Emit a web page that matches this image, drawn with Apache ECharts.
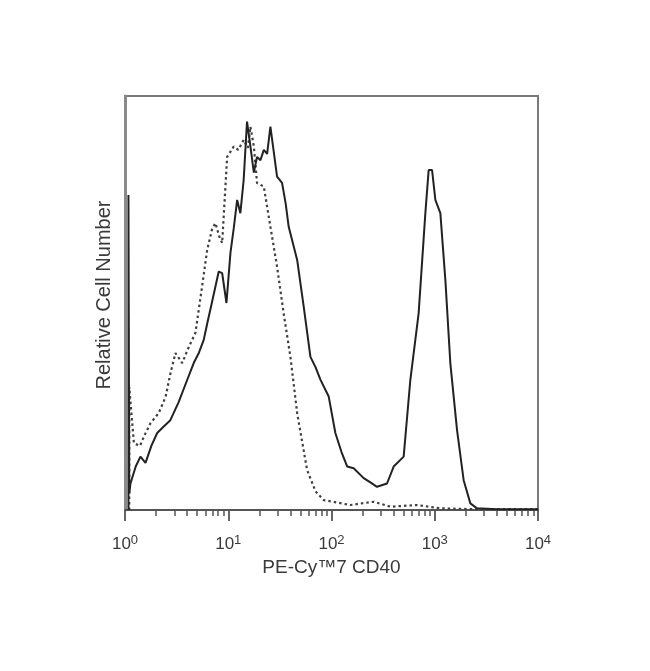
<!DOCTYPE html>
<html>
<head>
<meta charset="utf-8">
<script src="https://cdn.jsdelivr.net/npm/echarts@6/dist/echarts.min.js"></script>
<style>html,body{margin:0;padding:0;background:#fff}#c{width:650px;height:671px}</style>
</head>
<body>
<div id="c"></div>
<script>
// Solid histogram (PE-Cy7 CD40 stained) — x in fluorescence units, y in % of max scale
const solidX = [1.08, 1.08, 1.10, 1.13, 1.27, 1.41, 1.58, 1.80, 2.05, 2.40, 2.75, 3.3, 4.0, 4.63, 5.2, 5.79, 6.25, 7.0, 8.09, 8.73, 9.61, 10.5, 11.3, 12.2, 13.1, 14.1, 15.2, 16.4, 17.7, 19.0, 20.5, 22.1, 23.8, 25.6, 29.7, 33.2, 36.0, 38.5, 46.5, 53.8, 62.5, 70.0, 78.1, 94.0, 109, 125, 142, 164, 205, 240, 276, 345, 400, 500, 580, 698, 811, 873, 942, 1014, 1133, 1267, 1416, 1644, 1905, 2212, 2570, 4000, 10000];
const solidY = [0, 76.1, 4.0, 6.4, 10.5, 12.9, 11.4, 15.5, 18.6, 20.3, 21.7, 26.0, 31.4, 35.5, 38.0, 41.1, 45.0, 50.5, 57.6, 57.2, 50.0, 62.1, 68.0, 74.9, 71.7, 79.7, 93.8, 87.8, 81.5, 85.3, 84.5, 87.0, 86.0, 92.6, 80.5, 79.0, 74.0, 68.4, 60.4, 49.1, 37.0, 34.5, 31.5, 27.4, 18.6, 14.0, 10.5, 10.1, 7.7, 6.6, 5.6, 6.4, 10.5, 12.9, 31.4, 47.5, 71.7, 82.1, 82.1, 74.9, 71.7, 55.6, 35.4, 19.3, 7.2, 1.6, 0.4, 0.2, 0.2];
// Dashed histogram (isotype control)
const dashX = [1.10, 1.10, 1.22, 1.40, 1.52, 1.77, 2.12, 2.47, 2.76, 3.08, 3.58, 4.15, 4.81, 5.5, 6.25, 7.0, 7.52, 8.2, 8.73, 9.76, 11.3, 12.5, 14.1, 15.5, 16.4, 17.7, 19.0, 22.1, 25.6, 29.7, 34.4, 40.0, 46.5, 58.0, 70.0, 84.0, 152, 256, 372, 674, 1133, 2380, 10000];
const dashY = [0, 29.7, 16.1, 15.5, 17.7, 21.0, 23.4, 27.3, 33.1, 37.9, 35.5, 39.4, 42.8, 52.9, 62.8, 68.0, 69.3, 66.0, 64.5, 85.3, 87.8, 87.0, 89.4, 87.5, 92.6, 87.8, 79.0, 78.1, 68.4, 58.8, 47.5, 37.0, 23.4, 9.7, 4.5, 2.4, 1.2, 2.0, 0.8, 1.2, 0.4, 0.2, 0.2];
// Axis ticks
const majorTicks = [1, 10, 100, 1000, 10000];
const minorTicks = [];
[1, 10, 100, 1000].forEach(d => { for (let k = 2; k <= 9; k++) minorTicks.push(k * d); });

const zip = (xs, ys) => xs.map((x, i) => [x, ys[i]]);
const chart = echarts.init(document.getElementById('c'), null, {renderer: 'canvas'});
const textColor = '#3a3a3a';
chart.setOption({
  animation: false,
  grid: {left: 125, right: 112, top: 96, bottom: 161, show: true, borderColor: '#7a7a7a', borderWidth: 2, backgroundColor: 'transparent'},
  xAxis: [{
    type: 'log', logBase: 10, min: 1, max: 10000,
    name: 'PE-Cy\u21227 CD40', nameLocation: 'middle', nameGap: 46,
    nameTextStyle: {fontFamily: 'Liberation Sans', fontSize: 19, color: textColor},
    axisLine: {show: true, lineStyle: {color: '#555', width: 2}},
    axisTick: {show: true, inside: false, length: 11, lineStyle: {color: '#555', width: 1.8}, customValues: majorTicks},
    minorTick: {show: false},
    splitLine: {show: false},
    axisLabel: {
      margin: 24, customValues: majorTicks,
      formatter: v => '{b|10}{s|' + Math.round(Math.log10(v)) + '}',
      rich: {
        b: {fontFamily: 'Liberation Sans', fontSize: 17, color: textColor},
        s: {fontFamily: 'Liberation Sans', fontSize: 13, color: textColor, padding: [0, 0, 8, 0]}
      }
    }
  }, {
    type: 'log', logBase: 10, min: 1, max: 10000, position: 'bottom',
    axisLine: {show: false},
    axisTick: {show: true, inside: false, length: 6, lineStyle: {color: '#555', width: 1.5}, customValues: minorTicks},
    axisLabel: {show: false},
    splitLine: {show: false}
  }],
  yAxis: {
    type: 'value', min: 0, max: 100,
    name: 'Relative Cell Number', nameLocation: 'middle', nameGap: 11,
    nameTextStyle: {fontFamily: 'Liberation Sans', fontSize: 20, color: textColor, padding: [0, 0, 0, 16]},
    axisLine: {show: true, lineStyle: {color: '#8a8a8a', width: 3}}, axisTick: {show: false}, axisLabel: {show: false}, splitLine: {show: false}
  },
  series: [{
    type: 'line', xAxisIndex: 0, data: zip(dashX, dashY), showSymbol: false, symbol: 'none',
    lineStyle: {color: '#404040', width: 2.2, type: [2.5, 3]}, z: 2
  }, {
    type: 'line', xAxisIndex: 0, data: zip(solidX, solidY), showSymbol: false, symbol: 'none',
    lineStyle: {color: '#222', width: 2}, z: 3
  }]
});
</script>
</body>
</html>
